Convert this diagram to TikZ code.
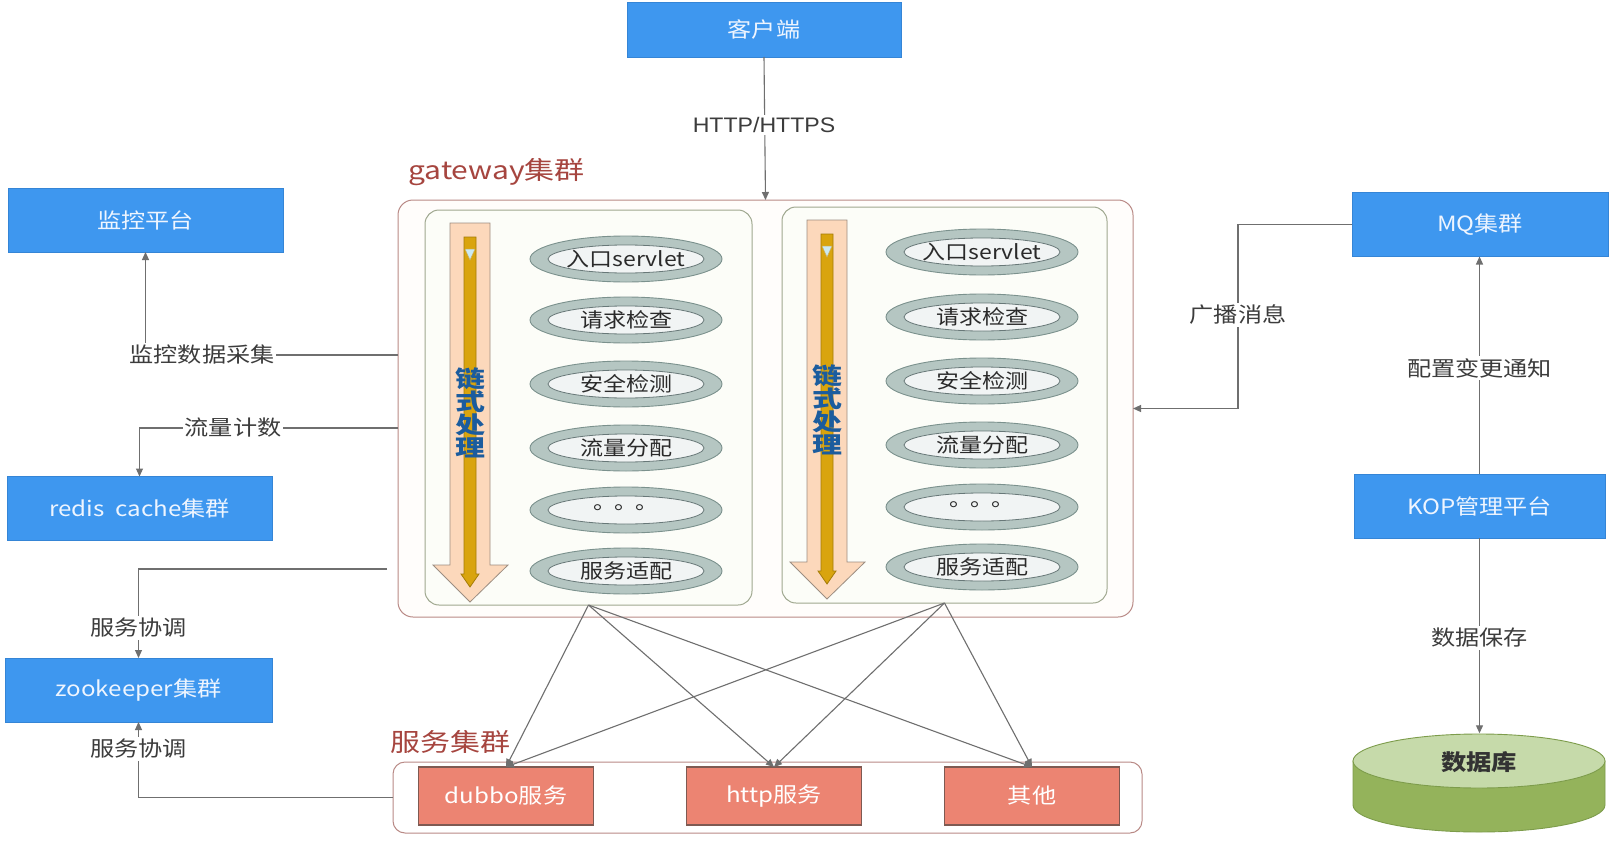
\documentclass[tikz,border=0pt]{standalone}
\usepackage{fontspec}
\setmainfont[FakeStretch=1.15]{Noto Sans CJK SC}
\newfontfamily\redfont[FakeStretch=1.2]{Noto Sans CJK SC}
\newfontfamily\httpfont[FakeStretch=1.1]{Liberation Sans}
\newfontfamily\chainfont[FakeStretch=1.3]{Noto Sans CJK SC}
\usetikzlibrary{arrows.meta,shapes.geometric}
\definecolor{boxblue}{HTML}{3E97EF}
\definecolor{boxblueedge}{HTML}{3585D6}
\definecolor{boxtext}{HTML}{EEF5FF}
\definecolor{salmon}{HTML}{EC8472}
\definecolor{salmonedge}{HTML}{7E5A52}
\definecolor{clusteredge}{HTML}{B98A86}
\definecolor{clusterfill}{HTML}{FFFDFB}
\definecolor{paneledge}{HTML}{9FA78F}
\definecolor{panelfill}{HTML}{FCFDF8}
\definecolor{linegray}{HTML}{6F6F6F}
\definecolor{labelgray}{HTML}{3C3C3C}
\definecolor{redlabel}{HTML}{A6453F}
\definecolor{ellout}{HTML}{B5C6C2}
\definecolor{elloutedge}{HTML}{7B918D}
\definecolor{ellin}{HTML}{F1F4F4}
\definecolor{ellinedge}{HTML}{687878}
\definecolor{peach}{HTML}{FCD8BB}
\definecolor{peachedge}{HTML}{9C8E82}
\definecolor{gold}{HTML}{D9A40E}
\definecolor{goldedge}{HTML}{A47C08}
\definecolor{iceblue}{HTML}{CBEAF2}
\definecolor{chainblue}{HTML}{1B5C9E}
\definecolor{dbtop}{HTML}{C6DAAA}
\definecolor{dbside}{HTML}{94B35B}
\definecolor{dbedge}{HTML}{7D9C4B}
\definecolor{elltext}{HTML}{2A2A2A}

% #1 name, #2 x, #3 y, #4 text
\newcommand\gwstage[4]{%
  \node[ellouter] (#1) at (#2,#3) {};
  \draw[fill=ellin, draw=ellinedge, line width=0.8pt] (#2,#3) ellipse [x radius=78, y radius=14];
  \node[elltxt] (#1t) at (#2,#3) {#4};}

% #1 centre x, #2 vertical shift, #3 name
\newcommand\chainarrow[3]{%
  \filldraw[fill=peach, draw=peachedge, line width=0.8pt]
    (#1-20,223+#2) -- (#1+20,223+#2) -- (#1+20,565+#2) -- (#1+38,565+#2)
    -- (#1,602+#2) -- (#1-37,565+#2) -- (#1-20,565+#2) -- cycle;
  \filldraw[fill=gold, draw=goldedge, line width=0.8pt]
    (#1-6,237+#2) -- (#1+6,237+#2) -- (#1+6,574+#2) -- (#1+9,574+#2)
    -- (#1,587+#2) -- (#1-9,574+#2) -- (#1-6,574+#2) -- cycle;
  \filldraw[fill=iceblue, draw=goldedge!60, line width=0.5pt]
    (#1-5,249+#2) -- (#1+5,249+#2) -- (#1,260+#2) -- cycle;
  \node[chaintxt] (#3) at (#1,413+#2) {链\\式\\处\\理};}

\begin{document}
\begin{tikzpicture}[x=1pt,y=-1pt,
  line/.style={draw=linegray, line width=1.1pt},
  arr/.style={line, -{Triangle[length=8pt,width=7pt]}},
  bluebox/.style={rectangle, fill=boxblue, draw=boxblueedge, line width=0.8pt,
    text=boxtext, font=\fontsize{21}{23}\selectfont,
    minimum width=#1, minimum height=64, inner sep=0, outer sep=0},
  salbox/.style={rectangle, fill=salmon, draw=salmonedge, line width=1.4pt,
    text=white, font=\fontsize{21}{23}\selectfont,
    minimum width=175, minimum height=58, inner sep=0, outer sep=0},
  cluster/.style={rectangle, rounded corners=15, draw=clusteredge, fill=clusterfill,
    line width=1pt, inner sep=0, outer sep=0},
  panel/.style={rectangle, rounded corners=14, draw=paneledge, fill=panelfill,
    line width=1pt, inner sep=0, outer sep=0},
  ellouter/.style={ellipse, fill=ellout, draw=elloutedge, line width=0.9pt,
    minimum width=192, minimum height=46, inner sep=0},
  elltxt/.style={inner sep=0, text=elltext, font=\fontsize{20}{22}\selectfont},
  chaintxt/.style={inner sep=0, text=chainblue, align=center,
    font=\chainfont\fontsize{23}{23}\selectfont\bfseries},
  elabel/.style={fill=white, inner sep=2pt, text=labelgray,
    font=\fontsize{21}{23}\selectfont},
  redlab/.style={inner sep=0, text=redlabel, anchor=west,
    font=\redfont\fontsize{25}{27}\selectfont}
]
\useasboundingbox (0,0) rectangle (1617,851);
\fill[white] (0,0) rectangle (1617,851);

% ---------------- gateway cluster ----------------
\node[cluster, minimum width=735, minimum height=417] (gw) at (765.5,408.5) {};
\node[redlab] (gwlab) at (408,172) {gateway集群};
\node[panel, minimum width=327, minimum height=395] (p1) at (588.5,407.5) {};
\node[panel, minimum width=325, minimum height=396] (p2) at (944.5,405) {};

\chainarrow{470}{0}{chain1}
\chainarrow{827}{-3}{chain2}

\gwstage{a1}{626}{259}{入口servlet}
\gwstage{a2}{626}{320}{请求检查}
\gwstage{a3}{626}{384}{安全检测}
\gwstage{a4}{626}{448}{流量分配}
\gwstage{a5}{626}{510}{\raisebox{0.3em}{。\hspace{-0.1em}。\hspace{-0.1em}。}}
\gwstage{a6}{626}{571}{服务适配}

\gwstage{b1}{982}{252}{入口servlet}
\gwstage{b2}{982}{317}{请求检查}
\gwstage{b3}{982}{381}{安全检测}
\gwstage{b4}{982}{445}{流量分配}
\gwstage{b5}{982}{507}{\raisebox{0.3em}{。\hspace{-0.1em}。\hspace{-0.1em}。}}
\gwstage{b6}{982}{567}{服务适配}

% ---------------- service cluster ----------------
\node[cluster, rounded corners=12, fill=white, minimum width=749, minimum height=71] (svc) at (767.5,797.5) {};
\node[redlab] (svclab) at (390,742) {服务集群};
\node[salbox] (dubbo) at (506,796) {dubbo服务};
\node[salbox] (http) at (774,796) {http服务};
\node[salbox] (other) at (1032,796) {其他};

% ---------------- blue boxes ----------------
\node[bluebox=274, minimum height=55] (client) at (764,29.5) {客户端};
\node[bluebox=275] (mon) at (145.5,220) {监控平台};
\node[bluebox=265] (redis) at (139.5,508.5) {redis~~cache集群};
\node[bluebox=267] (zk) at (138.5,690) {zookeeper集群};
\node[bluebox=256] (mq) at (1480,224.5) {MQ集群};
\node[bluebox=251] (kop) at (1479.5,506) {KOP管理平台};

% ---------------- database ----------------
\filldraw[fill=dbside, draw=dbedge, line width=0.9pt]
  (1353,761) -- (1353,805) arc[start angle=180, end angle=0, x radius=126, y radius=27]
  -- (1605,761) -- cycle;
\filldraw[fill=dbtop, draw=dbedge, line width=0.9pt] (1479,761) ellipse [x radius=126, y radius=27];
\node[minimum width=252, minimum height=99, inner sep=0] (db) at (1479,783) {};
\node[inner sep=0, text=black!80, font=\fontsize{22}{24}\selectfont\bfseries] (dbt) at (1479,762) {数据库};

% ---------------- connectors ----------------
\draw[arr] (client.south) -- (gw.north);
\node[elabel, font=\httpfont\fontsize{21}{23}\selectfont] (lhttp) at (764,125) {HTTP/HTTPS};

\coordinate (gwm) at (398,355);
\draw[arr] (gwm) -| (mon);
\node[elabel] (lmon) at (202,355) {监控数据采集};

\coordinate (gwf) at (398,428);
\draw[arr] (gwf) -| (redis);
\node[elabel] (lflow) at (233,428) {流量计数};

\coordinate (gwz) at (387,569);
\draw[arr] (gwz) -| (zk);
\node[elabel] (lzk1) at (138.5,628) {服务协调};

\draw[arr] (svc.west) -| (zk);
\node[elabel] (lzk2) at (138.5,749) {服务协调};

\coordinate (mqbend) at (1238,224.5);
\draw[arr] (mq.west) -- (mqbend) |- (gw.east);
\node[elabel] (lmq) at (1238,315) {广播消息};

\draw[arr] (kop.north) -- (kop.north |- mq.south);
\node[elabel] (lkop) at (1479.5,368) {配置变更通知};

\draw[arr] (kop.south) -- (kop.south |- db.north);
\node[elabel] (ldb) at (1479.5,638) {数据保存};

\foreach \s in {p1,p2}{
  \foreach \t in {dubbo,http,other}{
    \draw[arr] (\s.south) -- (\t.north);
  }
}
\end{tikzpicture}
\end{document}
